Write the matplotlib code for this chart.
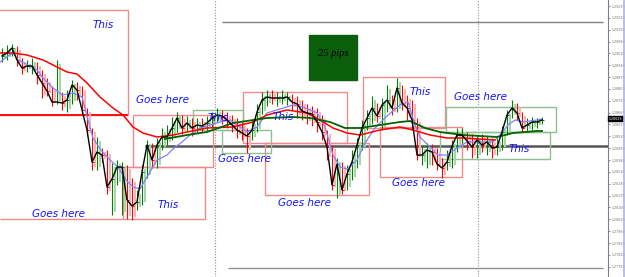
import matplotlib.pyplot as plt
from matplotlib.patches import Rectangle
from matplotlib.lines import Line2D
import numpy as np

# Price bars in screen rows (0 = top of chart)
close = [56, 53, 48, 60, 68, 66, 66, 75, 83, 91, 102, 102, 103, 100, 85, 90, 110, 130, 162, 152,
         155, 187, 179, 167, 167, 200, 206, 202, 172, 145, 160, 145, 137, 137, 128, 118, 128, 123, 128, 125,
         126, 123, 118, 115, 116, 120, 125, 130, 133, 136, 130, 112, 100, 97, 98, 98, 98, 97, 102, 104,
         111, 113, 114, 122, 132, 147, 185, 164, 190, 174, 162, 145, 128, 118, 108, 116, 105, 100, 108, 88,
         103, 108, 120, 155, 155, 150, 152, 164, 168, 162, 146, 135, 135, 141, 147, 140, 145, 142, 148, 147,
         132, 115, 108, 113, 128, 125, 122, 122, 120]
high = [48, 45, 44, 46, 58, 60, 58, 62, 70, 78, 86, 60, 92, 90, 80, 82, 86, 108, 128, 137,
        148, 150, 163, 160, 162, 165, 178, 190, 165, 140, 143, 138, 128, 125, 117, 112, 115, 116, 118, 118,
        118, 116, 112, 108, 110, 112, 115, 118, 122, 128, 120, 104, 92, 90, 90, 92, 90, 92, 94, 96,
        100, 104, 106, 108, 115, 130, 145, 158, 162, 165, 150, 138, 120, 110, 96, 103, 98, 85, 95, 78,
        85, 95, 100, 118, 145, 143, 144, 148, 158, 150, 140, 128, 128, 132, 134, 135, 134, 136, 138, 138,
        126, 110, 100, 103, 112, 118, 117, 118, 117]
low = [62, 60, 56, 66, 74, 72, 74, 84, 98, 96, 106, 104, 110, 112, 104, 100, 115, 136, 170, 170,
       162, 194, 215, 185, 215, 219, 220, 210, 205, 178, 168, 168, 150, 145, 140, 132, 134, 132, 136, 133,
       132, 130, 128, 122, 124, 128, 132, 138, 140, 153, 140, 132, 114, 106, 104, 106, 104, 105, 110, 118,
       120, 124, 126, 132, 140, 160, 190, 198, 194, 190, 180, 168, 150, 130, 124, 122, 130, 112, 115, 112,
       110, 120, 130, 160, 165, 168, 165, 170, 178, 170, 168, 152, 143, 150, 158, 158, 152, 155, 158, 155,
       150, 135, 118, 120, 132, 132, 130, 128, 124]

# moving averages (time, row)
fast_t = [0, 8, 13, 18, 30, 37, 43, 52, 62, 73, 82, 88, 93, 100, 110, 118, 126, 133, 140, 147,
          157, 167, 173, 182, 190, 200, 210, 220, 230, 240, 247, 257, 267, 280, 293, 303, 317, 325, 333, 340,
          347, 357, 365, 375, 387, 400, 408, 415, 420, 430, 438, 447, 457, 467, 480, 493, 500, 508, 515, 523,
          537, 542]
fast_v = [62, 56, 53, 60, 66, 70, 78, 87, 95, 93, 97, 120, 138, 149, 160, 167, 180, 187, 189, 177,
          160, 155, 149, 142, 135, 128, 125, 122, 120, 127, 132, 127, 113, 109, 105, 107, 113, 127, 155, 167,
          169, 160, 143, 128, 116, 105, 102, 125, 137, 147, 155, 155, 148, 142, 142, 142, 135, 125, 120, 122,
          120, 119]
slow_t = [0, 13, 27, 43, 67, 77, 87, 100, 113, 123, 133, 143, 157, 173, 187, 207, 233, 253, 267, 287,
          307, 320, 333, 347, 360, 380, 400, 413, 430, 447, 463, 480, 495]
slow_v = [53, 53, 55, 60, 72, 74, 83, 97, 108, 115, 127, 133, 137, 135, 132, 128, 127, 122, 115, 110,
          113, 120, 128, 133, 135, 130, 127, 130, 135, 138, 138, 139, 140]
long_t = [165, 187, 207, 233, 267, 293, 310, 330, 345, 360, 380, 400, 410, 425, 440, 463, 480, 497, 513, 537, 542]
long_v = [139, 135, 132, 123, 118, 117, 118, 122, 128, 128, 125, 122, 121, 128, 132, 135, 136, 137, 133, 131, 131]

# price scale: 7 pips per label
top_price = 1.29290
price_ticks = [round(top_price - 0.0007 * k, 5) for k in range(23)]
last_price = 1.28625

labels = [("This", 103, 25), ("Goes here", 163, 100), ("This", 218, 118), ("Goes here", 244, 159),
          ("This", 283, 117), ("Goes here", 305, 203), ("This", 168, 205), ("Goes here", 59, 214),
          ("This", 420, 92), ("Goes here", 419, 183), ("Goes here", 480, 97), ("This", 519, 149)]
red_boxes = [(-2, 10, 128, 115), (133, 115, 213, 167), (123, 167, 205, 219),
             (243, 92, 347, 143), (265, 143, 369, 195), (363, 77, 445, 128), (380, 127, 462, 177)]
green_boxes = [(193, 110, 243, 130), (222, 130, 271, 153), (446, 107, 556, 132), (440, 132, 550, 159)]


def row(p):
    return 6 + (top_price - p) / 0.0007 * 11.85


fig = plt.figure(figsize=(6.25, 2.77), dpi=100)
ax = fig.add_axes([0, 0, 608 / 625, 1])
ax.set_xlim(0, 608)
ax.set_ylim(277, 0)

# grid-like lines
ax.axvline(215, color='#909090', ls=(0, (1, 1.5)), lw=0.8, zorder=0)
ax.axvline(478, color='#909090', ls=(0, (1, 1.5)), lw=0.8, zorder=0)
ax.hlines(22, 222, 603, color='#808080', lw=1, zorder=1)
ax.hlines(146, 145, 608, color='#555555', lw=1.8, zorder=1)
ax.hlines(268, 228, 603, color='#909090', lw=1, zorder=1)

for x0, y0, x1, y1 in red_boxes:
    ax.add_patch(Rectangle((x0, y0), x1 - x0, y1 - y0, fill=False, ec='#f08a8a', lw=1, zorder=1))
for x0, y0, x1, y1 in green_boxes:
    ax.add_patch(Rectangle((x0, y0), x1 - x0, y1 - y0, fill=False, ec='#8fc08f', lw=1, zorder=1))
ax.hlines(115, 0, 128, color='#ff0000', lw=1.3, zorder=2)
ax.hlines(219, 0, 123, color='#f08a8a', lw=1, zorder=1)

# bars
bar_t = 2 + 5 * np.arange(len(close))
opens = [close[0] + 2] + close[:-1]
for t, o, c, h, l in zip(bar_t, opens, close, high, low):
    up = c <= o
    col = '#008000' if up else '#ff0000'
    light = '#a6d4a6' if up else '#ffb0b0'
    ax.vlines(t + 2.5, h + 4, l - 3, color=light, lw=1.4, zorder=2)
    ax.vlines(t, h, l, color=col, lw=0.8, zorder=3)
    ax.hlines(c, t, t + 1.5, color=col, lw=0.7, zorder=3)

ax.plot(fast_t, fast_v, color='#8080ff', lw=0.9, zorder=4)
ax.plot(slow_t, slow_v, color='#ff0000', lw=1.1, zorder=4)
ax.plot(long_t, long_v, color='#006400', lw=1.3, zorder=4)
ax.plot(bar_t, close, color='black', lw=1.0, zorder=5)

# 25 pips box
ax.add_patch(Rectangle((309, 35), 48, 45, color='#0b5e0b', zorder=6))
ax.text(333, 53, "25 pips", ha='center', va='center', fontsize=7.5, style='italic',
        family='Liberation Serif', color='black', zorder=7)

for s, x, y in labels:
    ax.text(x, y, s, ha='center', va='center', fontsize=7.5, style='italic',
            color='#1414ff', zorder=8)

# price axis on the right
for side in ['top', 'left', 'bottom']:
    ax.spines[side].set_visible(False)
ax.spines['right'].set_color('#808080')
ax.spines['right'].set_linewidth(0.8)
ax.set_xticks([])
ax.yaxis.tick_right()
ax.set_yticks([row(p) for p in price_ticks])
ax.set_yticklabels(['%.5f' % p for p in price_ticks])
ax.tick_params(axis='y', length=1.5, width=0.6, color='#808080', labelsize=2.3,
               labelcolor='#707070', pad=0.8)
ax.text(608.5, row(last_price), '%.5f' % last_price, fontsize=2.3, color='white', va='center',
        ha='left', transform=ax.transData, clip_on=False,
        bbox=dict(boxstyle='square,pad=0.2', fc='black', ec='black'), zorder=9)

fig.add_artist(Line2D([623.5 / 625, 623.5 / 625], [0, 1], color='#a8b4e8', lw=1.2, transform=fig.transFigure))

fig.savefig('out.png', dpi=100)
